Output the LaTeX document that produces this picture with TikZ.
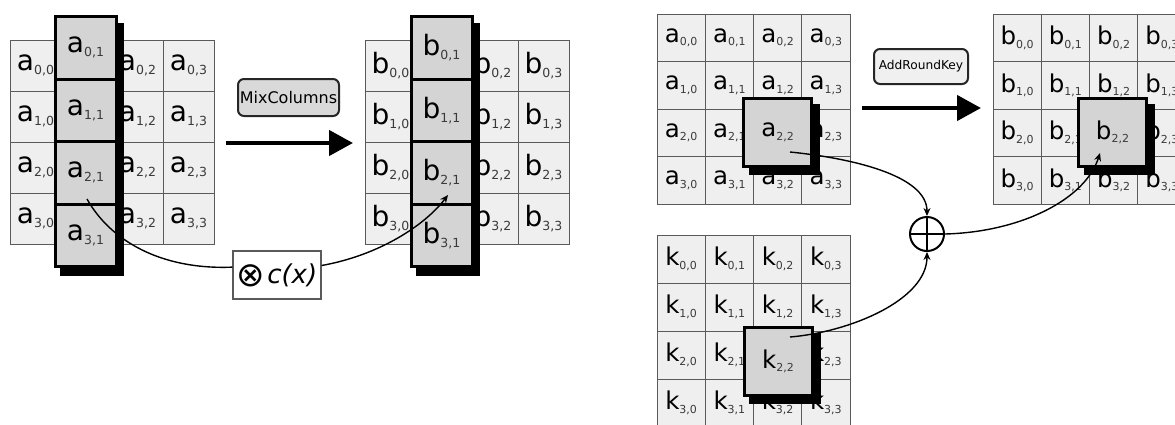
\documentclass[tikz,border=0pt]{standalone}
\usepackage{fontspec}
\setmainfont{DejaVu Sans}
\usetikzlibrary{arrows.meta,calc}
\definecolor{cellfill}{HTML}{EFEFEF}
\definecolor{hifill}{HTML}{D4D4D4}
\definecolor{gridline}{HTML}{5A5A5A}
\definecolor{subgrey}{HTML}{3A3A3A}
\definecolor{opfill}{HTML}{D9D9D9}
\definecolor{keyfill}{HTML}{F0F0F0}
\newcommand\cellbig[2]{{\fontsize{28}{28}\selectfont #1}\raisebox{-4pt}{\fontsize{12.5}{12.5}\selectfont\color{subgrey}#2}}
\newcommand\cellsmall[2]{{\fontsize{24.5}{24.5}\selectfont #1}\raisebox{-3.5pt}{\fontsize{11}{11}\selectfont\color{subgrey}#2}}
\tikzset{
  gcell/.style={draw=gridline, line width=1pt, fill=cellfill, inner sep=0pt},
  hcol/.style={draw=black, line width=3pt, fill=hifill, inner sep=0pt, minimum width=61pt, minimum height=62.5pt},
  hbox/.style={draw=black, line width=3pt, fill=hifill, inner sep=0pt, minimum size=68pt},
  opbox/.style={draw=black!85, line width=2pt, rounded corners=6pt, inner sep=0pt},
  bigarrow/.style={line width=4.5pt, -{Triangle[length=24pt,width=25pt]}},
  conn/.style={line width=1.4pt, -{Stealth[length=8pt,width=7pt]}},
}
\begin{document}
\begin{tikzpicture}[x=1pt,y={(0pt,-1pt)}]
\useasboundingbox (0,0) rectangle (1175,424);
\clip (0,0) rectangle (1175,424);
% ---------- MixColumns: left grid a ----------
\foreach \r in {0,...,3}{\foreach \c in {0,2,3}{
  \node[gcell, minimum width=51pt, minimum height=51pt] (A\r\c) at ({10+51*\c+25.5},{40+51*\r+25.5}) {\cellbig{a}{\r,\c}};
}}
\fill (60,23) rectangle (124,276);
\foreach \r in {0,...,3}{
  \node[hcol] (CA\r) at (85.5,{16.5+62.5*(\r+0.5)}) {\cellbig{a}{\r,1}};
}
% ---------- MixColumns: right grid b ----------
\foreach \r in {0,...,3}{\foreach \c in {0,2,3}{
  \node[gcell, minimum width=51pt, minimum height=51pt] (B\r\c) at ({365+51*\c+25.5},{40+51*\r+25.5}) {\cellbig{b}{\r,\c}};
}}
\fill (416,23) rectangle (480,276);
\foreach \r in {0,...,3}{
  \node[hcol] (CB\r) at (441.5,{16.5+62.5*(\r+0.5)}) {\cellbig{b}{\r,1}};
}
% MixColumns label and arrow
\node[opbox, fill=opfill, minimum width=101pt, minimum height=37pt] (mc) at (288.5,97.5) {\fontsize{16}{16}\selectfont MixColumns};
\coordinate (mcS) at (226,143);
\coordinate (mcE) at (353,143);
\draw[bigarrow] (mcS) -- (mcE);
% c(x) box and curves
\node[draw=gridline, line width=1.3pt, fill=white, minimum width=88pt, minimum height=48pt, inner sep=0pt] (cx) at (277,275) {\raisebox{-3pt}{\fontsize{34}{34}\selectfont ⊗}\hspace{2pt}{\fontsize{26}{26}\selectfont\textit{c(x)}}};
\coordinate (s1) at (87,199);
\coordinate (e1) at (448,195);
\draw[line width=1.4pt] (s1) .. controls (110,240) and (160,270) .. (cx.170);
\draw[conn] (cx.12) .. controls (380,255) and (425,225) .. (e1);
% ---------- AddRoundKey: grid a ----------
\foreach \r in {0,...,3}{\foreach \c in {0,...,3}{
  \ifnum\r\c=22\else
  \node[gcell, minimum width=48.25pt, minimum height=47.5pt] (RA\r\c) at ({657+48.25*\c+24.125},{14+47.5*\r+23.75}) {\cellsmall{a}{\r,\c}};
  \fi
}}
\fill (749,104) rectangle (820,175);
\node[hbox] (a22) at (777.5,132.5) {\cellsmall{a}{2,2}};
% ---------- AddRoundKey: grid b ----------
\foreach \r in {0,...,3}{\foreach \c in {0,...,3}{
  \ifnum\r\c=22\else
  \node[gcell, minimum width=48.25pt, minimum height=47.5pt] (RB\r\c) at ({993+48.25*\c+24.125},{14+47.5*\r+23.75}) {\cellsmall{b}{\r,\c}};
  \fi
}}
\fill (1084,104) rectangle (1155,175);
\node[hbox] (b22) at (1112.5,132.5) {\cellsmall{b}{2,2}};
% ---------- AddRoundKey: grid k ----------
\foreach \r in {0,...,3}{\foreach \c in {0,...,3}{
  \ifnum\r\c=22\else
  \node[gcell, minimum width=48.25pt, minimum height=48pt] (RK\r\c) at ({657+48.25*\c+24.125},{235+48*\r+24}) {\cellsmall{k}{\r,\c}};
  \fi
}}
\fill (749,333) rectangle (821,404);
\node[hbox] (k22) at (778,361.5) {\cellsmall{k}{2,2}};
% AddRoundKey label and arrow
\node[opbox, fill=keyfill, minimum width=94pt, minimum height=35pt] (ark) at (921,66.5) {\fontsize{12.2}{12.2}\selectfont AddRoundKey};
\coordinate (arkS) at (862,108);
\coordinate (arkE) at (981,108);
\draw[bigarrow] (arkS) -- (arkE);
% XOR
\node[draw=black, circle, line width=2pt, minimum size=34pt, inner sep=0pt] (xor) at (927,234) {};
\draw[line width=2pt] (xor.north) -- (xor.south) (xor.west) -- (xor.east);
\coordinate (sa) at (790,152);
\coordinate (sk) at (790,337);
\coordinate (eb) at (1100,153);
\draw[conn] (sa) .. controls (850,158) and (927,175) .. (xor.north);
\draw[conn] (sk) .. controls (850,332) and (927,300) .. (xor.south);
\draw[conn] (xor.east) .. controls (1020,232) and (1085,200) .. (eb);
\end{tikzpicture}
\end{document}
